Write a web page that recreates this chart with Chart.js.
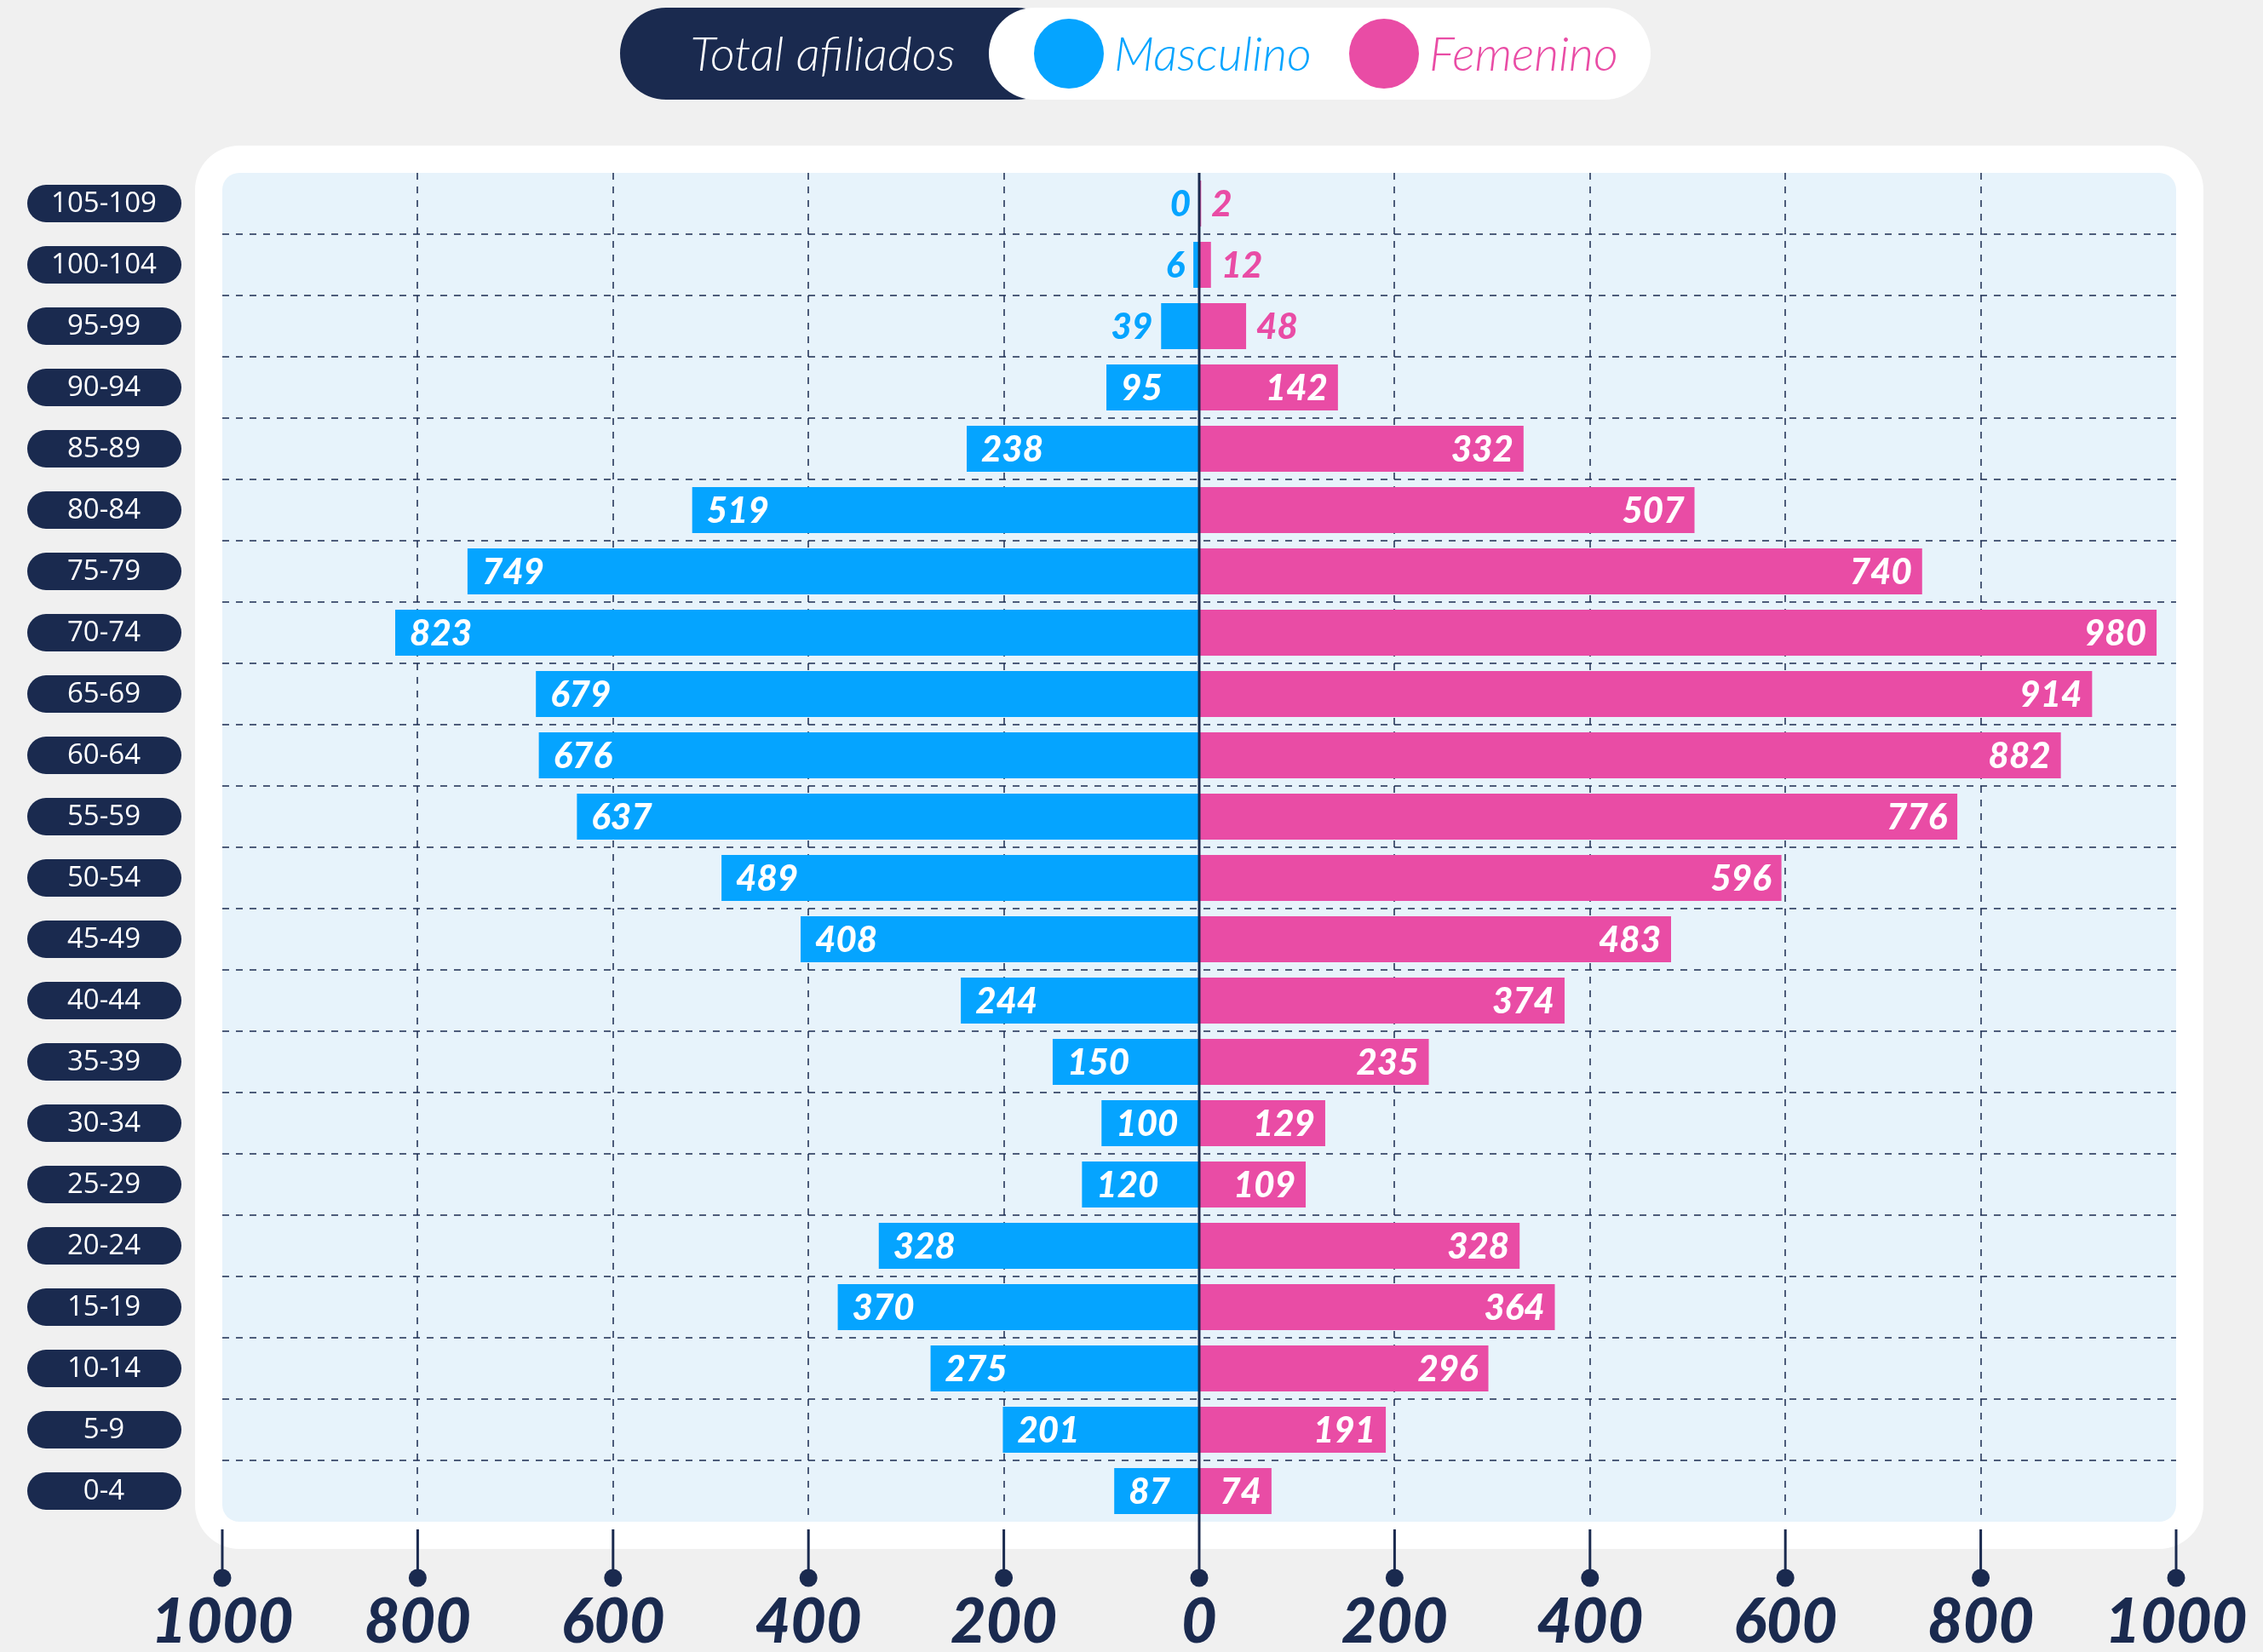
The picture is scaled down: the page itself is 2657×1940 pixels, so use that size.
<!DOCTYPE html>
<html>
<head>
<meta charset="utf-8">
<script src="https://cdn.jsdelivr.net/npm/chart.js@4"></script>
<style>
  html, body { margin: 0; padding: 0; background: #f0f0f0; }
  #wrap { width: 2657px; height: 1940px; position: relative; }
</style>
</head>
<body>
<div id="wrap"><canvas id="chart"></canvas></div>
<script>
// age groups, top to bottom
const ageGroups = ["105-109", "100-104", "95-99", "90-94", "85-89", "80-84", "75-79", "70-74",
  "65-69", "60-64", "55-59", "50-54", "45-49", "40-44", "35-39", "30-34", "25-29", "20-24",
  "15-19", "10-14", "5-9", "0-4"]
const masculino = [0, 6, 39, 95, 238, 519, 749, 823, 679, 676, 637, 489, 408, 244, 150, 100, 120, 328, 370, 275, 201, 87]
const femenino = [2, 12, 48, 142, 332, 507, 740, 980, 914, 882, 776, 596, 483, 374, 235, 129, 109, 328, 364, 296, 191, 74]
const xTicks = [-1000, -800, -600, -400, -200, 0, 200, 400, 600, 800, 1000]
const legendTitle = "Total afiliados"

const NAVY = '#1a2a4f'
const BLUE = '#05a4ff'
const PINK = '#e94ca5'
const GRID = 'rgba(26, 42, 79, 0.75)'

function roundRect(ctx, x, y, w, h, r) {
  ctx.beginPath()
  ctx.roundRect(x, y, w, h, r)
  ctx.fill()
}

// white card + light blue plot area + legend pill
let background = {
  id: 'background',
  beforeDraw(chart) {
    let {ctx, chartArea: a} = chart
    ctx.save()
    ctx.fillStyle = '#ffffff'
    roundRect(ctx, a.left - 32, a.top - 32, a.width + 64, a.height + 64, 52)
    ctx.fillStyle = '#e7f3fb'
    roundRect(ctx, a.left, a.top, a.width, a.height, 20)

    // legend
    let cy = 63, h = 108
    ctx.fillStyle = NAVY
    roundRect(ctx, 728, cy - h / 2, 520, h, h / 2)
    ctx.fillStyle = '#ffffff'
    roundRect(ctx, 1161, cy - h / 2, 777, h, h / 2)
    ctx.font = 'italic 300 56px Lato'
    ctx.textBaseline = 'middle'
    ctx.textAlign = 'center'
    ctx.fillStyle = '#ffffff'
    ctx.fillText(legendTitle, 966, cy + 2)
    let items = [[1255, 1308], [1625, 1678]]
    chart.data.datasets.forEach((ds, i) => {
      ctx.fillStyle = ds.backgroundColor
      ctx.beginPath()
      ctx.arc(items[i][0], cy, 41, 0, Math.PI * 2)
      ctx.fill()
      ctx.textAlign = 'left'
      ctx.fillText(ds.label, items[i][1], cy + 2)
    })
    ctx.restore()
  }
}

// centre line, tick stems with dots, age pills, value labels
let decorations = {
  id: 'decorations',
  afterDatasetsDraw(chart) {
    let {ctx, chartArea: a, scales: {x, y}} = chart
    ctx.save()
    ctx.strokeStyle = NAVY
    ctx.fillStyle = NAVY
    ctx.lineWidth = 3
    let dotY = a.bottom + 66
    xTicks.forEach(v => {
      let px = x.getPixelForValue(v)
      ctx.beginPath()
      ctx.moveTo(px, v === 0 ? a.top : a.bottom + 9)
      ctx.lineTo(px, dotY)
      ctx.stroke()
      ctx.beginPath()
      ctx.arc(px, dotY, 10.5, 0, Math.PI * 2)
      ctx.fill()
    })

    // age group pills
    ctx.font = '33px "Open Sans"'
    ctx.textAlign = 'center'
    ctx.textBaseline = 'middle'
    ageGroups.forEach((g, i) => {
      let py = y.getPixelForTick(i)
      ctx.fillStyle = NAVY
      roundRect(ctx, 32, py - 22, 181, 44, 22)
      ctx.fillStyle = '#ffffff'
      ctx.fillText(g, 122, py + 1)
    })

    // value labels
    ctx.font = 'italic 900 42px Lato'
    chart.data.datasets.forEach((ds, di) => {
      let meta = chart.getDatasetMeta(di)
      meta.data.forEach((bar, i) => {
        let v = Math.abs(ds.data[i])
        let left = di === 0
        let inside = v >= 60
        if (inside) {
          ctx.fillStyle = '#ffffff'
          ctx.textAlign = left ? 'left' : 'right'
          ctx.fillText(v, left ? bar.x + 17 : bar.x - 12, bar.y + 1)
        } else {
          ctx.fillStyle = ds.backgroundColor
          ctx.textAlign = left ? 'right' : 'left'
          ctx.fillText(v, left ? bar.x - 10 : bar.x + 12, bar.y + 1)
        }
      })
    })
    ctx.restore()
  }
}

function makeChart() {
  let ctx = document.getElementById('chart').getContext('2d')
  new Chart(ctx, {
    type: 'bar',
    data: {
      labels: ageGroups,
      datasets: [{
        label: 'Masculino',
        data: masculino.map(v => -v),
        backgroundColor: BLUE,
        barPercentage: 0.75,
        categoryPercentage: 1
      }, {
        label: 'Femenino',
        data: femenino,
        backgroundColor: PINK,
        barPercentage: 0.75,
        categoryPercentage: 1
      }]
    },
    plugins: [background, decorations],
    options: {
      indexAxis: 'y',
      responsive: true,
      maintainAspectRatio: false,
      devicePixelRatio: 1,
      animation: false,
      layout: {padding: {top: 203, right: 102, bottom: 0, left: 0}},
      plugins: {legend: {display: false}, tooltip: {enabled: false}},
      scales: {
        x: {
          stacked: true,
          min: -1000,
          max: 1000,
          afterBuildTicks: s => { s.ticks = xTicks.map(v => ({value: v})) },
          afterFit: s => { s.height = 153; s.paddingLeft = 0; s.paddingRight = 0 },
          grid: {
            drawTicks: false,
            lineWidth: 2,
            color: c => (c.tick && Math.abs(c.tick.value) < 1000 && c.tick.value !== 0) ? GRID : 'transparent'
          },
          border: {display: false, dash: [8, 8]},
          ticks: {
            padding: 76,
            color: NAVY,
            font: {family: 'Lato', size: 72, weight: 900, style: 'italic', lineHeight: 1.2},
            callback: v => Math.abs(v)
          }
        },
        y: {
          stacked: true,
          afterFit: s => { s.width = 261 },
          grid: {
            offset: true,
            drawTicks: false,
            lineWidth: 2,
            color: c => (c.type === 'tick' && c.index > 0) ? GRID : 'transparent'
          },
          border: {display: false, dash: [8, 8]},
          ticks: {display: false}
        }
      }
    }
  })
}

Promise.all([
  document.fonts.load('italic 900 42px Lato'),
  document.fonts.load('italic 300 56px Lato'),
  document.fonts.load('33px "Open Sans"')
]).then(makeChart, makeChart)
</script>
</body>
</html>
